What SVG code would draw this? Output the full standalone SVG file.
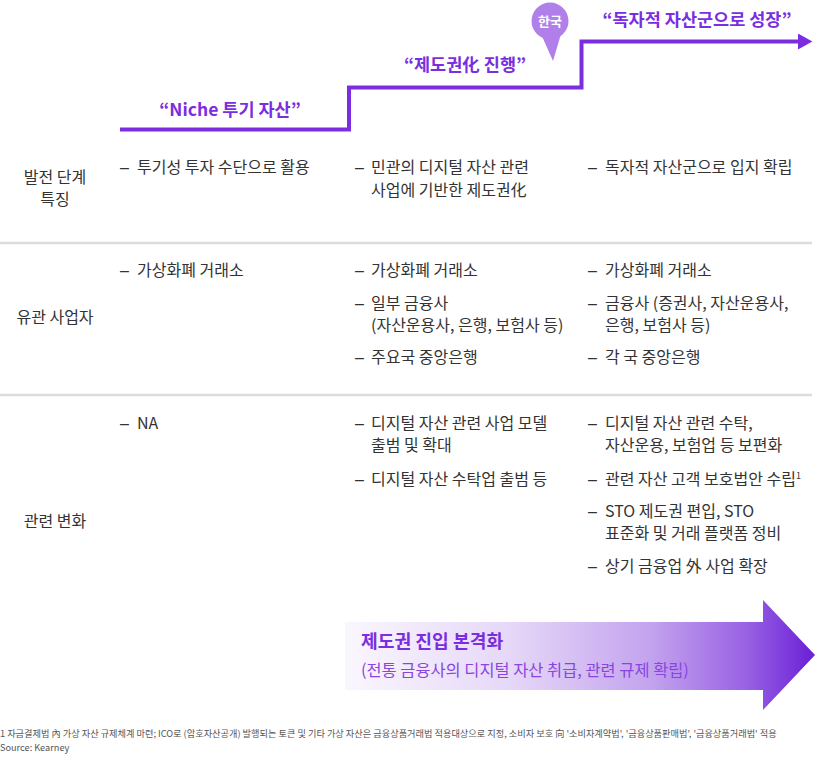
<svg xmlns="http://www.w3.org/2000/svg" width="827" height="760" viewBox="0 0 827 760">
<defs>
<style>
text{font-family:"Noto Sans CJK KR","Noto Sans",sans-serif;}
.t{font-size:16px;fill:#333;}
.d{font-size:16px;fill:#333;font-family:"Liberation Sans",sans-serif;}
.lbl{font-size:16px;fill:#333;text-anchor:middle;}
.stage{font-size:17.5px;font-weight:700;fill:#7a2ee0;text-anchor:middle;}
.sep{stroke:#dcdcdc;stroke-width:2.5;}
.fn{font-size:9.2px;fill:#555;}
</style>
<linearGradient id="g" gradientUnits="userSpaceOnUse" x1="345" y1="0" x2="815" y2="0">
<stop offset="0" stop-color="#faf6fe"/>
<stop offset="0.35" stop-color="#e6d8f8"/>
<stop offset="0.65" stop-color="#c3a3ee"/>
<stop offset="0.85" stop-color="#9a63e4"/>
<stop offset="1" stop-color="#6a1fd6"/>
</linearGradient>
<marker id="ah" markerWidth="4" markerHeight="4" refX="0" refY="2" orient="auto" markerUnits="strokeWidth">
<path d="M0,0 L3.6,2 L0,4 Z" fill="#7a2ee0"/>
</marker>
</defs>
<rect width="827" height="760" fill="#fff"/>

<g id="connectors">
<path d="M120,129.5 H349 V87.5 H581.5 V41.5 H798" fill="none" stroke="#7a2ee0" stroke-width="4" marker-end="url(#ah)"/>
</g>

<g id="stage1"><text class="stage" x="230" y="116">“Niche 투기 자산”</text></g>
<g id="stage2"><text class="stage" x="465" y="70.5">“제도권化 진행”</text></g>
<g id="stage3"><text class="stage" x="697" y="26">“독자적 자산군으로 성장”</text></g>

<g id="korea-pin">
<path d="M541,34 L553,61 L561,34 Z" fill="#b07fe9"/>
<circle cx="550" cy="21" r="18.5" fill="#b07fe9"/>
<text x="550" y="26" style="font-size:13px;font-weight:700;fill:#fff;text-anchor:middle">한국</text>
</g>

<g id="separators">
<line class="sep" x1="0" y1="243" x2="812" y2="243"/>
<line class="sep" x1="0" y1="395" x2="812" y2="395"/>
</g>

<g id="row1">
<text class="lbl" x="55" y="183">발전 단계<tspan x="55" dy="22">특징</tspan></text>
<text class="d" x="120" y="173">–</text><text class="t" x="137" y="173">투기성 투자 수단으로 활용</text>
<text class="d" x="355" y="173">–</text><text class="t" x="371" y="173">민관의 디지털 자산 관련<tspan x="371" dy="22.5">사업에 기반한 제도권化</tspan></text>
<text class="d" x="588" y="173">–</text><text class="t" x="605" y="173">독자적 자산군으로 입지 확립</text>
</g>

<g id="row2">
<text class="lbl" x="55" y="323">유관 사업자</text>
<text class="d" x="120" y="276">–</text><text class="t" x="137" y="276">가상화폐 거래소</text>
<text class="d" x="355" y="276">–</text><text class="t" x="371" y="276">가상화폐 거래소</text>
<text class="d" x="355" y="309">–</text><text class="t" x="371" y="309">일부 금융사<tspan x="371" dy="22">(자산운용사, 은행, 보험사 등)</tspan></text>
<text class="d" x="355" y="363">–</text><text class="t" x="371" y="363">주요국 중앙은행</text>
<text class="d" x="588" y="276">–</text><text class="t" x="605" y="276">가상화폐 거래소</text>
<text class="d" x="588" y="309">–</text><text class="t" x="605" y="309">금융사 (증권사, 자산운용사,<tspan x="605" dy="22">은행, 보험사 등)</tspan></text>
<text class="d" x="588" y="363">–</text><text class="t" x="605" y="363">각 국 중앙은행</text>
</g>

<g id="row3">
<text class="lbl" x="55" y="527">관련 변화</text>
<text class="d" x="120" y="429">–</text><text class="t" x="137" y="429">NA</text>
<text class="d" x="355" y="429">–</text><text class="t" x="371" y="429">디지털 자산 관련 사업 모델<tspan x="371" dy="22">출범 및 확대</tspan></text>
<text class="d" x="355" y="485">–</text><text class="t" x="371" y="485">디지털 자산 수탁업 출범 등</text>
<text class="d" x="588" y="429">–</text><text class="t" x="605" y="429">디지털 자산 관련 수탁,<tspan x="605" dy="22">자산운용, 보험업 등 보편화</tspan></text>
<text class="d" x="588" y="485">–</text><text class="t" x="605" y="485">관련 자산 고객 보호법안 수립<tspan style="font-size:9px" dy="-6">1</tspan></text>
<text class="d" x="588" y="516.5">–</text><text class="t" x="605" y="516.5">STO 제도권 편입, STO<tspan x="605" dy="22.5">표준화 및 거래 플랫폼 정비</tspan></text>
<text class="d" x="588" y="572">–</text><text class="t" x="605" y="572">상기 금융업 外 사업 확장</text>
</g>

<g id="big-arrow">
<path d="M345,622 H763 V600 L815,655 L763,710 V690 H345 Z" fill="url(#g)"/>
<text x="361" y="648" style="font-size:18.2px;font-weight:700;fill:#7a2ee0">제도권 진입 본격화</text>
<text x="361" y="676" style="font-size:16.4px;fill:#8a45e0">(전통 금융사의 디지털 자산 취급, 관련 규제 확립)</text>
</g>

<g id="footnote">
<text class="fn" x="0" y="737">1 자금결제법 內 가상 자산 규제체계 마련; ICO로 (암호자산공개) 발행되는 토큰 및 기타 가상 자산은 금융상품거래법 적용대상으로 지정, 소비자 보호 向 '소비자계약법', '금융상품판매법', '금융상품거래법' 적용<tspan x="0" dy="13.5">Source: Kearney</tspan></text>
</g>
</svg>
